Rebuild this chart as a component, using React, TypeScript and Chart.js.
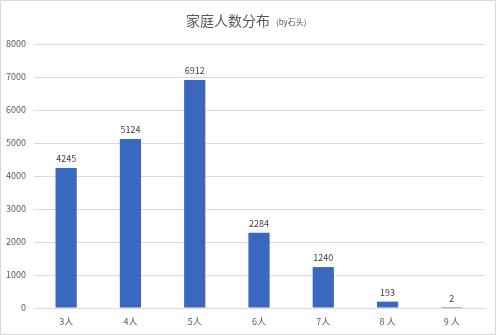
import React, { useEffect, useRef } from "react";
import { Chart, registerables } from "chart.js";

Chart.register(...registerables);

const categories = ["3人", "4人", "5人", "6人", "7人", "8 人", "9 人"];
const counts = [4245, 5124, 6912, 2284, 1240, 193, 2];
const yTicks = [0, 1000, 2000, 3000, 4000, 5000, 6000, 7000, 8000];
const titleText = "家庭人数分布";
const subTitleText = "(by石头)";

const FONT = "'Noto Sans CJK SC', 'Noto Sans', sans-serif";

export default function App() {
  const ref = useRef<HTMLCanvasElement>(null);
  useEffect(() => {
    document.body.style.margin = "0";
    const titlePlugin = {
      id: "titleDraw",
      afterDraw(chart: any) {
        const ctx = chart.ctx;
        ctx.save();
        ctx.textBaseline = "middle";
        ctx.fillStyle = "#595959";
        ctx.font = `14px ${FONT}`;
        const w1 = ctx.measureText(titleText).width;
        const x0 = 185;
        ctx.fillText(titleText, x0, 20);
        ctx.font = `8px ${FONT}`;
        ctx.fillText(subTitleText, x0 + w1 + 6, 21);
        ctx.restore();
      },
    };
    const labelPlugin = {
      id: "barLabels",
      afterDatasetsDraw(chart: any) {
        const ctx = chart.ctx;
        const meta = chart.getDatasetMeta(0);
        ctx.save();
        ctx.font = `9px ${FONT}`;
        ctx.fillStyle = "#404040";
        ctx.textAlign = "center";
        ctx.textBaseline = "bottom";
        meta.data.forEach((bar: any, i: number) => {
          ctx.fillText(String(counts[i]), bar.x, bar.y - 5);
        });
        ctx.restore();
      },
    };
    const chart = new Chart(ref.current!, {
      type: "bar",
      data: {
        labels: categories,
        datasets: [
          {
            data: counts,
            backgroundColor: "#3a67c0",
            categoryPercentage: 1,
            barPercentage: 0.33,
          },
        ],
      },
      options: {
        responsive: false,
        animation: false,
        devicePixelRatio: 1,
        layout: { padding: { top: 43, right: 11, left: 0, bottom: 0 } },
        plugins: {
          legend: { display: false },
          tooltip: { enabled: false },
          title: { display: false },
        },
        scales: {
          x: {
            grid: { display: false, drawTicks: false },
            border: { color: "#d9d9d9" },
            ticks: {
              color: "#595959",
              font: { size: 9, family: FONT },
              padding: 8,
            },
            afterFit(s: any) {
              s.height = 26;
            },
          },
          y: {
            min: 0,
            max: 8000,
            afterBuildTicks(s: any) {
              s.ticks = yTicks.map((v) => ({ value: v }));
            },
            grid: { color: "#d9d9d9", drawTicks: false },
            border: { display: false },
            ticks: {
              color: "#595959",
              font: { size: 9, family: FONT },
              padding: 8,
              callback: (v: any) => String(v),
            },
            afterFit(s: any) {
              s.width = 33;
            },
          },
        },
      },
      plugins: [titlePlugin, labelPlugin],
    });
    return () => chart.destroy();
  }, []);
  return (
    <div
      style={{
        position: "absolute",
        left: 0,
        top: 0,
        width: 494,
        height: 333,
        border: "1px solid #d9d9d9",
        background: "#fff",
      }}
    >
      <canvas ref={ref} width={494} height={333} style={{ display: "block" }} />
    </div>
  );
}
